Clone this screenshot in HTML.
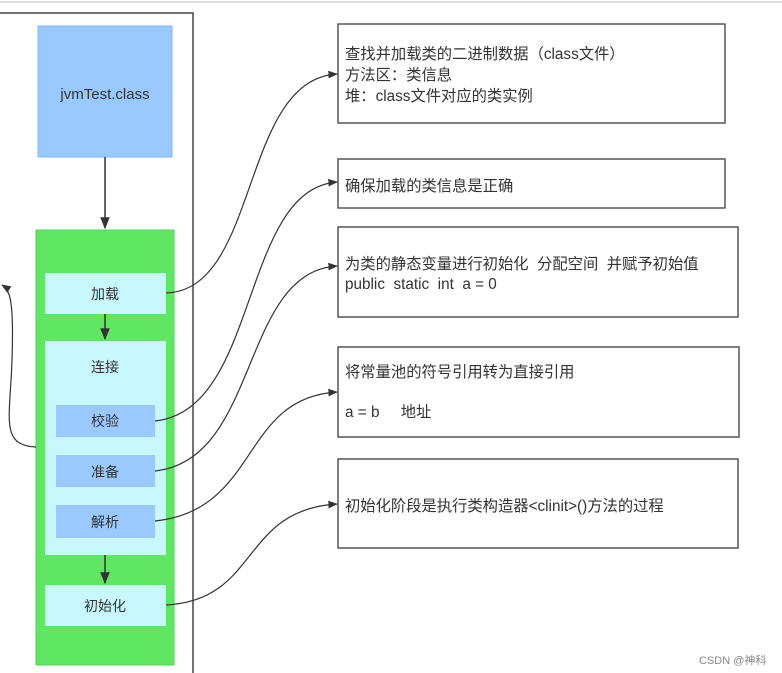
<!DOCTYPE html>
<html><head><meta charset="utf-8"><style>
html,body{margin:0;padding:0;background:#fff;}
svg{display:block;}
text{font-family:"Liberation Sans","Noto Sans CJK SC",sans-serif;fill:#333;}
</style></head><body>
<svg width="782" height="673" viewBox="0 0 782 673" xmlns="http://www.w3.org/2000/svg">
<defs><marker id="a" viewBox="0 0 10 10" refX="9" refY="5" markerWidth="8" markerHeight="8" orient="auto"><path d="M0,1 L10,5 L0,9 z" fill="#333"/></marker></defs>
<line x1="0" y1="2" x2="782" y2="2" stroke="#ddd" stroke-width="2"/>
<polyline points="0,13 193,13 193,673" fill="none" stroke="#444" stroke-width="1.5"/>
<rect x="38" y="26" width="134" height="131" fill="#99c9ff" stroke="#7fb6f5"/>
<text x="105" y="99" font-size="15" text-anchor="middle">jvmTest.class</text>
<line x1="105" y1="157" x2="105" y2="228" stroke="#333" stroke-width="1.5" marker-end="url(#a)"/>
<rect x="36" y="230" width="138" height="435" fill="#5fe663" stroke="#4fd653"/>
<rect x="45" y="273" width="121" height="41" fill="#c8f8fd"/>
<text x="105" y="299" font-size="14" text-anchor="middle">加载</text>
<line x1="105" y1="314" x2="105" y2="339" stroke="#333" stroke-width="1.5" marker-end="url(#a)"/>
<rect x="45" y="341" width="121" height="214" fill="#c8f8fd"/>
<text x="105" y="372" font-size="14" text-anchor="middle">连接</text>
<rect x="56" y="405" width="99" height="32" fill="#99c9ff"/>
<text x="105" y="426" font-size="14" text-anchor="middle">校验</text>
<rect x="56" y="455" width="99" height="32" fill="#99c9ff"/>
<text x="105" y="477" font-size="14" text-anchor="middle">准备</text>
<rect x="56" y="505" width="99" height="33" fill="#99c9ff"/>
<text x="105" y="527" font-size="14" text-anchor="middle">解析</text>
<line x1="105" y1="555" x2="105" y2="583" stroke="#333" stroke-width="1.5" marker-end="url(#a)"/>
<rect x="45" y="585" width="121" height="41" fill="#c8f8fd"/>
<text x="105" y="611" font-size="14" text-anchor="middle">初始化</text>
<path d="M36,447 C0,445 10,420 12,360 C14,300 10,290 2,285" fill="none" stroke="#333" stroke-width="1.2" marker-end="url(#a)"/>
<g fill="none" stroke="#333" stroke-width="1.2">
<path d="M166,293 C260,290 240,80 337,74" marker-end="url(#a)"/>
<path d="M155,421 C260,410 240,190 337,182" marker-end="url(#a)"/>
<path d="M155,471 C260,460 240,272 337,266" marker-end="url(#a)"/>
<path d="M155,521 C260,510 240,398 337,392" marker-end="url(#a)"/>
<path d="M166,605 C260,600 240,510 337,504" marker-end="url(#a)"/>
</g>
<g fill="#fff" stroke="#555" stroke-width="1.5">
<rect x="338" y="24" width="387" height="99"/>
<rect x="338" y="159" width="387" height="49"/>
<rect x="338" y="227" width="400" height="90"/>
<rect x="338" y="347" width="401" height="90"/>
<rect x="338" y="459" width="400" height="89"/>
</g>
<g font-size="15.3">
<text x="345" y="59">查找并加载类的二进制数据（class文件）</text>
<text x="345" y="80">方法区：类信息</text>
<text x="345" y="101">堆：class文件对应的类实例</text>
<text x="345" y="191">确保加载的类信息是正确</text>
<text x="345" y="269" xml:space="preserve">为类的静态变量进行初始化  分配空间  并赋予初始值</text>
<text x="345" y="289" xml:space="preserve">public  static  int  a = 0</text>
<text x="345" y="377">将常量池的符号引用转为直接引用</text>
<text x="345" y="417" xml:space="preserve">a = b     地址</text>
<text x="345" y="511">初始化阶段是执行类构造器&lt;clinit&gt;()方法的过程</text>
</g>
<text x="699" y="664" font-size="11" style="fill:#888">CSDN @神科</text>
</svg>
</body></html>
